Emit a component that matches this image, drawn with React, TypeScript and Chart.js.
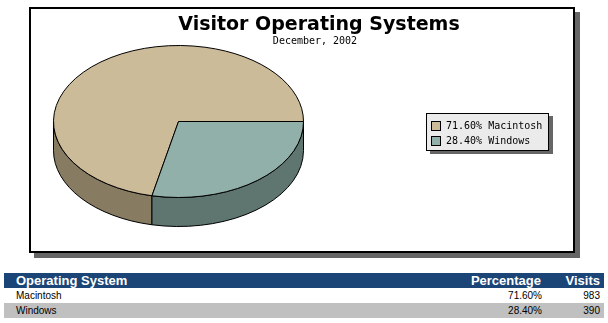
import React, { useEffect, useRef } from "react";
import { Chart, registerables } from "chart.js";

Chart.register(...registerables);

// ---- data ----
const TITLE = "Visitor Operating Systems";
const SUBTITLE = "December, 2002";
const SYSTEMS = ["Macintosh", "Windows"];
const VISITS = [983, 390];

// ---- styling ----
const TOP_COLORS = ["#CCBB99", "#91B0A9"];
const SIDE_COLORS = ["#877C62", "#5E7570"];
const ASPECT = 125 / 76; // horizontal / vertical radius of the tilted pie
const DEPTH = 29; // thickness of the pie in px

const TOTAL = VISITS.reduce((a, b) => a + b, 0);
const PERCENTS = VISITS.map((v) => ((v * 100) / TOTAL).toFixed(2) + "%");

const CANVAS_W = 542;
const CANVAS_H = 242;

// Draws the dataset as a tilted pie with side walls, using the arc angles
// and geometry computed by the doughnut controller.
const pie3d = {
  id: "pie3d",
  beforeDatasetsDraw(chart: any) {
    const meta = chart.getDatasetMeta(0);
    const arcs = meta.data;
    if (!arcs.length) return false;
    const ctx: CanvasRenderingContext2D = chart.ctx;
    const first = arcs[0].getProps(["x", "y", "outerRadius"], true);
    const cx = first.x;
    const cy = first.y;
    const ry = first.outerRadius;
    const rx = ry * ASPECT;
    const TWO_PI = Math.PI * 2;

    ctx.save();
    ctx.lineWidth = 1;
    ctx.strokeStyle = "#000";
    ctx.lineJoin = "miter";

    // side walls: only the front half (angles 0..PI) is visible
    arcs.forEach((arc: any, i: number) => {
      const { startAngle: s, endAngle: e } = arc.getProps(["startAngle", "endAngle"], true);
      for (let k = -2; k <= 2; k++) {
        const a = Math.max(s, k * TWO_PI);
        const b = Math.min(e, k * TWO_PI + Math.PI);
        if (b <= a) continue;
        ctx.beginPath();
        ctx.ellipse(cx, cy, rx, ry, 0, a, b, false);
        ctx.lineTo(cx + rx * Math.cos(b), cy + ry * Math.sin(b) + DEPTH);
        ctx.ellipse(cx, cy + DEPTH, rx, ry, 0, b, a, true);
        ctx.closePath();
        ctx.fillStyle = SIDE_COLORS[i];
        ctx.fill();
        ctx.stroke();
      }
    });

    // top faces
    arcs.forEach((arc: any, i: number) => {
      const { startAngle: s, endAngle: e } = arc.getProps(["startAngle", "endAngle"], true);
      ctx.beginPath();
      ctx.moveTo(cx, cy);
      ctx.ellipse(cx, cy, rx, ry, 0, s, e, false);
      ctx.closePath();
      ctx.fillStyle = TOP_COLORS[i];
      ctx.fill();
      ctx.stroke();
    });

    ctx.restore();
    return false;
  },
  afterDraw(chart: any) {
    const ctx: CanvasRenderingContext2D = chart.ctx;
    ctx.save();

    // title + subtitle
    ctx.fillStyle = "#000";
    ctx.textAlign = "center";
    ctx.textBaseline = "alphabetic";
    ctx.font = 'bold 19px "DejaVu Sans", Verdana, sans-serif';
    ctx.fillText(TITLE, 288, 21);
    ctx.font = '10px "DejaVu Sans Mono", monospace';
    ctx.fillText(SUBTITLE, 284, 35);

    // legend box with drop shadow
    const lx = 395, ly = 104, lw = 123, lh = 38;
    ctx.fillStyle = "#666";
    ctx.fillRect(lx + 4, ly + 3, lw, lh);
    ctx.fillStyle = "#EBEBEB";
    ctx.fillRect(lx, ly, lw, lh);
    ctx.strokeStyle = "#000";
    ctx.lineWidth = 1;
    ctx.strokeRect(lx + 0.5, ly + 0.5, lw - 1, lh - 1);

    ctx.textAlign = "left";
    ctx.textBaseline = "middle";
    ctx.font = '10px "DejaVu Sans Mono", monospace';
    SYSTEMS.forEach((name, i) => {
      const rowY = ly + 8 + i * 15;
      ctx.fillStyle = TOP_COLORS[i];
      ctx.fillRect(lx + 5, rowY, 10, 10);
      ctx.strokeStyle = "#000";
      ctx.strokeRect(lx + 5.5, rowY + 0.5, 9, 9);
      ctx.fillStyle = "#000";
      ctx.fillText(`${PERCENTS[i]} ${name}`, lx + 20, rowY + 5.5);
    });

    ctx.restore();
  },
};

function PieChart() {
  const ref = useRef<HTMLCanvasElement | null>(null);
  useEffect(() => {
    if (!ref.current) return;
    const R = 76;
    const cx = 147.5;
    const cy = 112.5;
    const chart = new Chart(ref.current, {
      type: "pie",
      data: {
        labels: SYSTEMS,
        datasets: [
          {
            data: VISITS,
            backgroundColor: TOP_COLORS,
            borderWidth: 0,
            hoverBorderWidth: 0,
            hoverOffset: 0,
            offset: 0,
          },
        ],
      },
      options: {
        responsive: false,
        animation: false,
        // last slice starts at the 3 o'clock position
        rotation: 90 - (360 * VISITS[0]) / TOTAL,
        layout: {
          padding: {
            left: cx - R,
            right: CANVAS_W - (cx + R),
            top: cy - R,
            bottom: CANVAS_H - (cy + R),
          },
        },
        plugins: {
          legend: { display: false },
          title: { display: false },
          tooltip: { enabled: false },
        },
        events: [],
      },
      plugins: [pie3d],
    });
    return () => chart.destroy();
  }, []);
  return (
    <div
      style={{
        position: "absolute",
        left: 29,
        top: 7,
        width: CANVAS_W,
        height: CANVAS_H,
        border: "2px solid #000",
        boxShadow: "5px 5px 0 #666",
        background: "#fff",
      }}
    >
      <canvas
        ref={ref}
        width={CANVAS_W}
        height={CANVAS_H}
        style={{ display: "block", width: CANVAS_W, height: CANVAS_H }}
      />
    </div>
  );
}

const cellBase: React.CSSProperties = {
  padding: 0,
  height: 15,
  lineHeight: "15px",
  whiteSpace: "nowrap",
};

export default function App() {
  return (
    <div style={{ position: "absolute", left: 0, top: 0, width: 608, height: 323, background: "#fff" }}>
      <PieChart />
      <table
        style={{
          position: "absolute",
          left: 4,
          top: 273,
          width: 600,
          borderCollapse: "collapse",
          tableLayout: "fixed",
          fontFamily: '"Liberation Sans", Arial, sans-serif',
        }}
      >
        <colgroup>
          <col style={{ width: 296 }} />
          <col style={{ width: 245 }} />
          <col style={{ width: 59 }} />
        </colgroup>
        <thead>
          <tr style={{ background: "#1B4576", color: "#fff", fontWeight: "bold", fontSize: 13 }}>
            <th style={{ ...cellBase, textAlign: "left", paddingLeft: 12 }}>Operating System</th>
            <th style={{ ...cellBase, textAlign: "right", paddingRight: 4 }}>Percentage</th>
            <th style={{ ...cellBase, textAlign: "right", paddingRight: 4 }}>Visits</th>
          </tr>
        </thead>
        <tbody>
          {SYSTEMS.map((name, i) => (
            <tr key={name} style={{ background: i % 2 === 0 ? "#fff" : "#C0C0C0", color: "#000", fontSize: 10 }}>
              <td style={{ ...cellBase, textAlign: "left", paddingLeft: 12 }}>{name}</td>
              <td style={{ ...cellBase, textAlign: "right", paddingRight: 3 }}>{PERCENTS[i]}</td>
              <td style={{ ...cellBase, textAlign: "right", paddingRight: 4 }}>{VISITS[i]}</td>
            </tr>
          ))}
        </tbody>
      </table>
    </div>
  );
}
